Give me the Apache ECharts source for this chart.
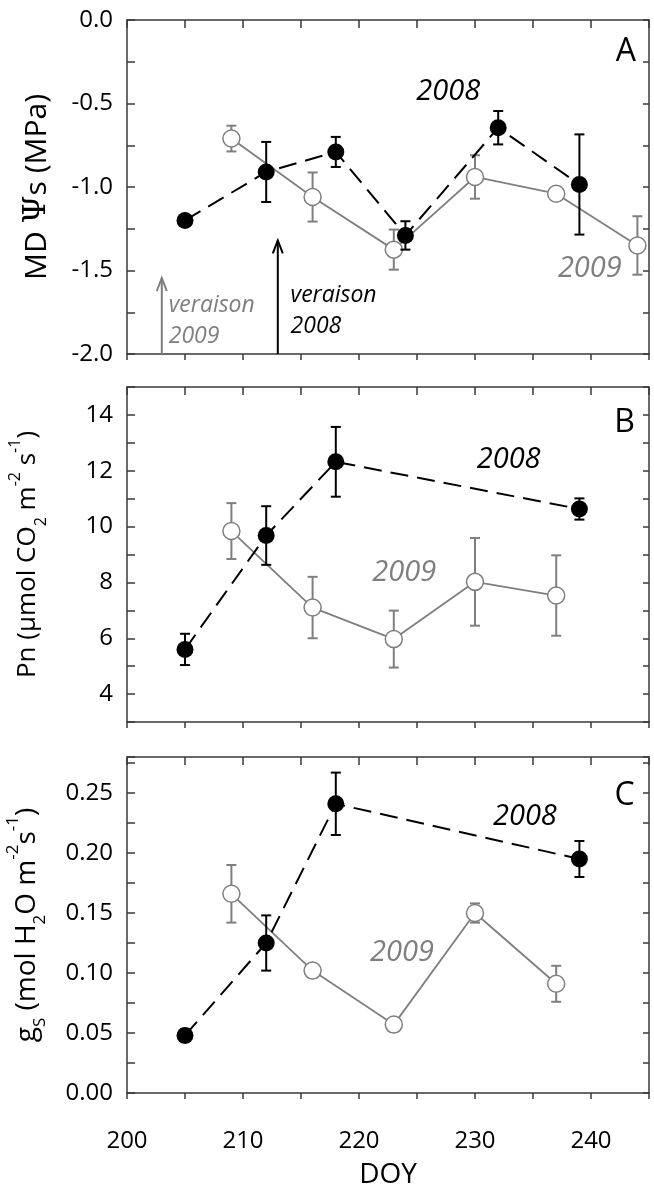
<!DOCTYPE html>
<html><head><meta charset="utf-8">
<script src="https://cdn.jsdelivr.net/npm/echarts@6/dist/echarts.min.js"></script>
<style>html,body{margin:0;padding:0;background:#fff}#c{width:654px;height:1187px}</style>
</head><body><div id="c"></div><script>
// ---- Data ----
// Panel A: midday stem water potential (MPa)
const doyA2008 = [205, 212, 218, 224, 232, 239];
const psi2008 = [-1.20, -0.91, -0.79, -1.29, -0.645, -0.985];
const psi2008Err = [0.02, 0.18, 0.09, 0.085, 0.10, 0.30];
const doyA2009 = [209, 216, 223, 230, 237, 244];
const psi2009 = [-0.71, -1.06, -1.375, -0.94, -1.04, -1.35];
const psi2009Err = [0.077, 0.147, 0.12, 0.13, 0.02, 0.175];
// Panels B, C
const doy2008 = [205, 212, 218, 239];
const doy2009 = [209, 216, 223, 230, 237];
const pn2008 = [5.6, 9.68, 12.32, 10.63];
const pn2008Err = [0.56, 1.05, 1.25, 0.38];
const pn2009 = [9.84, 7.10, 5.97, 8.02, 7.53];
const pn2009Err = [1.0, 1.1, 1.02, 1.57, 1.44];
const gs2008 = [0.048, 0.125, 0.241, 0.195];
const gs2008Err = [0.005, 0.023, 0.026, 0.015];
const gs2009 = [0.166, 0.102, 0.057, 0.150, 0.091];
const gs2009Err = [0.024, 0.003, 0.005, 0.008, 0.015];
// Veraison markers (panel A)
const veraisonDoy = [203, 213];
const veraisonTip = [-1.545, -1.32];
const veraisonText = ['veraison\n2009', 'veraison\n2008'];
// Axis ranges / ticks
const xMin = 200, xMax = 245, xStep = 5, xLabelStep = 10;
const yRanges = [
  {min: -2.0, max: 0.0, step: 0.25, labelStep: 0.5, digits: 1},
  {min: 3, max: 15, step: 1, labelStep: 2, digits: 0},
  {min: 0, max: 0.28, step: 0.025, labelStep: 0.05, digits: 2}
];

// ---- Styles ----
const FONT = '"Open Sans", "Noto Sans", sans-serif';
const AX = '#3a3a3a';
const GRAY = '#7f7f7f';
const grids = [
  {left: 127, top: 20, width: 522, height: 334},
  {left: 127, top: 387, width: 522, height: 335},
  {left: 127, top: 757, width: 522, height: 336}
];

function isMult(v, s) { const r = v / s; return Math.abs(r - Math.round(r)) < 1e-6; }

const xAxes = [], yAxes = [];
const yNames = [
  'MD {psi|Ψ}s (MPa)',
  'Pn (µmol CO{sub|2} m{sup|-2} s{sup|-1})',
  'g{sub|S} (mol H{sub|2}O m{sup|-2}s{sup|-1})'
];
const nameSizes = [30, 26, 28];
const nameGaps = [74, 78, 78];
function richFor(fs) {
  const small = Math.round(fs * 0.62);
  return {
    psi: {fontFamily: '"DejaVu Serif", serif', fontSize: fs + 2, color: '#000'},
    sub: {fontSize: small, verticalAlign: 'bottom', lineHeight: fs + 16, color: '#000', fontFamily: FONT},
    sup: {fontSize: small, verticalAlign: 'top', lineHeight: fs + 16, color: '#000', fontFamily: FONT}
  };
}
grids.forEach((g, p) => {
  const lineStyle = {color: AX, width: 1.5};
  xAxes.push({
    gridIndex: p, type: 'value', position: 'bottom', min: xMin, max: xMax, interval: xStep,
    axisLine: {onZero: false, lineStyle},
    axisTick: {inside: false, length: 6, lineStyle},
    axisLabel: {show: p === 2, margin: 36, fontSize: 24, fontFamily: FONT, color: '#000',
      formatter: v => isMult(v, xLabelStep) ? String(v) : ''},
    splitLine: {show: false},
    name: p === 2 ? 'DOY' : '', nameLocation: 'middle', nameGap: 68, nameMoveOverlap: false,
    nameTextStyle: {fontSize: 28, fontFamily: FONT, color: '#000'}
  });
  xAxes.push({
    gridIndex: p, type: 'value', position: 'top', min: xMin, max: xMax, interval: xStep,
    axisLine: {onZero: false, lineStyle},
    axisTick: {inside: true, length: 8, lineStyle},
    axisLabel: {show: false}, splitLine: {show: false}
  });
  const r = yRanges[p];
  yAxes.push({
    gridIndex: p, type: 'value', position: 'left', min: r.min, max: r.max, interval: r.step,
    axisLine: {show: true, onZero: false, lineStyle},
    axisTick: {show: true, inside: true, length: 8, lineStyle},
    axisLabel: {margin: 14, fontSize: 24, fontFamily: FONT, color: '#000',
      formatter: v => isMult(v, r.labelStep) ? v.toFixed(r.digits) : ''},
    splitLine: {show: false},
    name: yNames[p], nameLocation: 'middle', nameRotate: 90, nameGap: nameGaps[p],
    nameTextStyle: {fontSize: nameSizes[p], fontFamily: FONT, color: '#000', rich: richFor(nameSizes[p])}
  });
  yAxes.push({
    gridIndex: p, type: 'value', position: 'right', min: r.min, max: r.max, interval: r.step,
    axisLine: {show: true, onZero: false, lineStyle},
    axisTick: {show: true, inside: true, length: 6, lineStyle},
    axisLabel: {show: false}, splitLine: {show: false}
  });
});

function errSeries(xs, ys, es, color, p, z) {
  return {
    type: 'custom', xAxisIndex: p * 2, yAxisIndex: p * 2, z, silent: true, animation: false,
    data: xs.map((x, i) => [x, ys[i] - es[i], ys[i] + es[i]]),
    encode: {x: 0, y: [1, 2]},
    renderItem(params, api) {
      const lo = api.coord([api.value(0), api.value(1)]);
      const hi = api.coord([api.value(0), api.value(2)]);
      const w = 5;
      const st = {stroke: color, lineWidth: 2, fill: null};
      return {type: 'group', children: [
        {type: 'line', shape: {x1: lo[0], y1: lo[1], x2: hi[0], y2: hi[1]}, style: st},
        {type: 'line', shape: {x1: lo[0] - w, y1: lo[1], x2: lo[0] + w, y2: lo[1]}, style: st},
        {type: 'line', shape: {x1: hi[0] - w, y1: hi[1], x2: hi[0] + w, y2: hi[1]}, style: st}
      ]};
    }
  };
}
function line2008(xs, ys, p) {
  return {type: 'line', xAxisIndex: p * 2, yAxisIndex: p * 2, z: 5, animation: false,
    data: xs.map((x, i) => [x, ys[i]]), symbol: 'circle', symbolSize: 17,
    lineStyle: {color: '#000', width: 2, type: [18, 9]},
    itemStyle: {color: '#000'}};
}
function line2009(xs, ys, p) {
  return {type: 'line', xAxisIndex: p * 2, yAxisIndex: p * 2, z: 3, animation: false,
    data: xs.map((x, i) => [x, ys[i]]), symbol: 'circle', symbolSize: 17,
    lineStyle: {color: GRAY, width: 1.8},
    itemStyle: {color: '#fff', borderColor: GRAY, borderWidth: 1.5}};
}

// Annotations: [doy, value, text, style]
const annots = [
  [[243.0, -0.19, 'A', 'letter'], [227.7, -0.43, '2008', 'y08'], [239.9, -1.49, '2009', 'y09'],
   [203.6, -1.80, veraisonText[0], 'v09'], [214.1, -1.74, veraisonText[1], 'v08']],
  [[242.9, 13.71, 'B', 'letter'], [232.9, 12.39, '2008', 'y08'], [223.9, 8.34, '2009', 'y09']],
  [[242.9, 0.248, 'C', 'letter'], [234.3, 0.230, '2008', 'y08'], [223.7, 0.117, '2009', 'y09']]
];
const annStyle = {
  letter: {fontSize: 32, fill: '#000', fontStyle: 'normal', align: 'center'},
  y08: {fontSize: 29, fill: '#000', fontStyle: 'italic', align: 'center'},
  y09: {fontSize: 29, fill: GRAY, fontStyle: 'italic', align: 'center'},
  v08: {fontSize: 23, fill: '#000', fontStyle: 'italic', align: 'left', lineHeight: 31},
  v09: {fontSize: 23, fill: GRAY, fontStyle: 'italic', align: 'left', lineHeight: 31}
};
function annSeries(p) {
  const list = annots[p];
  return {type: 'custom', xAxisIndex: p * 2, yAxisIndex: p * 2, z: 10, silent: true, animation: false,
    data: list.map(a => [a[0], a[1]]),
    renderItem(params, api) {
      const a = list[params.dataIndex];
      const pt = api.coord([api.value(0), api.value(1)]);
      const s = annStyle[a[3]];
      return {type: 'text', x: pt[0], y: pt[1], style: Object.assign({text: a[2], fontFamily: FONT, verticalAlign: 'middle'}, s)};
    }};
}
const arrowSeries = {
  type: 'custom', xAxisIndex: 0, yAxisIndex: 0, z: 9, silent: true, animation: false,
  data: veraisonDoy.map((d, i) => [d, yRanges[0].min, veraisonTip[i]]),
  renderItem(params, api) {
    const b = api.coord([api.value(0), api.value(1)]);
    const t = api.coord([api.value(0), api.value(2)]);
    const color = params.dataIndex === 0 ? GRAY : '#000';
    const st = {stroke: color, lineWidth: 2, fill: null};
    return {type: 'group', children: [
      {type: 'line', shape: {x1: b[0], y1: b[1], x2: t[0], y2: t[1]}, style: st},
      {type: 'polyline', shape: {points: [[t[0] - 5, t[1] + 13], [t[0], t[1]], [t[0] + 5, t[1] + 13]]}, style: st}
    ]};
  }
};

const series = [
  errSeries(doyA2009, psi2009, psi2009Err, GRAY, 0, 2), line2009(doyA2009, psi2009, 0),
  errSeries(doyA2008, psi2008, psi2008Err, '#000', 0, 4), line2008(doyA2008, psi2008, 0),
  errSeries(doy2009, pn2009, pn2009Err, GRAY, 1, 2), line2009(doy2009, pn2009, 1),
  errSeries(doy2008, pn2008, pn2008Err, '#000', 1, 4), line2008(doy2008, pn2008, 1),
  errSeries(doy2009, gs2009, gs2009Err, GRAY, 2, 2), line2009(doy2009, gs2009, 2),
  errSeries(doy2008, gs2008, gs2008Err, '#000', 2, 4), line2008(doy2008, gs2008, 2),
  arrowSeries, annSeries(0), annSeries(1), annSeries(2)
];

const chart = echarts.init(document.getElementById('c'), null, {renderer: 'canvas'});
chart.setOption({
  animation: false,
  backgroundColor: '#fff',
  grid: grids.map(g => Object.assign({containLabel: false, outerBoundsMode: 'none'}, g)),
  xAxis: xAxes,
  yAxis: yAxes,
  series
});
</script></body></html>
